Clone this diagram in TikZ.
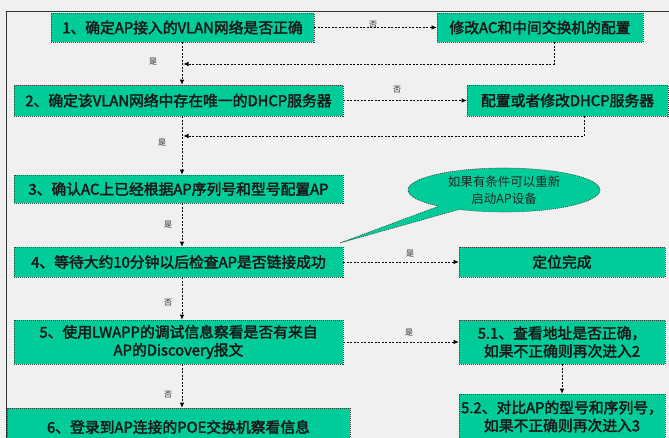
\documentclass[tikz,border=0pt]{standalone}
\usepackage{fontspec}
\setmainfont{Noto Sans CJK SC}[AutoFakeBold=2.5]
\usetikzlibrary{arrows.meta,shapes.callouts}
\definecolor{boxgreen}{RGB}{0,204,153}
\definecolor{bgray}{RGB}{240,240,240}
\begin{document}
\begin{tikzpicture}[x=1pt,y=-1pt,
  box/.style={draw=black!75, fill=boxgreen, line width=0.6pt, dash pattern=on 1pt off 1pt,
    inner sep=0pt, font=\fontsize{14.8}{18}\selectfont\bfseries, align=center, text=black!90},
  conn/.style={draw=black, line width=0.7pt, dash pattern=on 2pt off 1.5pt,
    -{Latex[length=5pt,width=4.5pt]}},
  lbl/.style={font=\fontsize{8}{9}\selectfont, inner sep=0pt, text=black!85}]
\useasboundingbox (0,0) rectangle (669,438);
\clip (0,0) rectangle (669,438);
\fill[bgray] (0,0) rectangle (669,438);
\draw[black!80, line width=0.8pt] (6,440) -- (6,11) -- (669,11);

% boxes
\node[box, minimum width=263, minimum height=29] (b1) at (182.5,27.5) {1、确定AP接入的VLAN网络是否正确};
\node[box, minimum width=206, minimum height=29] (b1r) at (540,27.5) {修改AC和中间交换机的配置};
\node[box, minimum width=329, minimum height=31] (b2) at (178.5,100.5) {2、确定该VLAN网络中存在唯一的DHCP服务器};
\node[box, minimum width=201, minimum height=31] (b2r) at (567.5,100.5) {配置或者修改DHCP服务器};
\node[box, minimum width=329, minimum height=28] (b3) at (178.5,189) {3、确认AC上已经根据AP序列号和型号配置AP};
\node[box, minimum width=329, minimum height=30] (b4) at (178.5,262) {4、等待大约10分钟以后检查AP是否链接成功};
\node[box, minimum width=206, minimum height=30] (b4r) at (562,262) {定位完成};
\node[box, minimum width=329, minimum height=44] (b5) at (178.5,342) {5、使用LWAPP的调试信息察看是否有来自\\AP的Discovery报文};
\node[box, minimum width=206, minimum height=44] (b51) at (562,342) {5.1、查看地址是否正确，\\如果不正确则再次进入2};
\node[box, minimum width=206, minimum height=45] (b52) at (562,416.5) {5.2、对比AP的型号和序列号，\\如果不正确则再次进入3};
\node[box, minimum width=343, minimum height=38] (b6) at (178.5,427) {6、登录到AP连接的POE交换机察看信息};

% callout
\node[ellipse callout, draw=black!75, fill=boxgreen, line width=0.6pt, dash pattern=on 1pt off 1pt,
  minimum width=192, minimum height=44, inner sep=0pt, align=center,
  font=\fontsize{12.5}{17}\selectfont, text=black!85,
  callout absolute pointer={(340,243)}] (co) at (504,190) {如果有条件可以重新\\启动AP设备};

% junction coordinates
\coordinate (t1) at (554,42);
\coordinate (j1) at (183.5,64);
\coordinate (t2) at (584,116);
\coordinate (j2) at (183.5,136);

% horizontal arrows
\draw[conn] (b1.east) -- (b1r.west);
\draw[conn] (b2.east) -- (b2r.west);
\draw[conn] (b4.east) -- (b4r.west);
\draw[conn] (b5.east) -- (b51.west);

% return arrows
\draw[conn] (b1r.south -| t1) |- (j1);
\draw[conn] (b2r.south -| t2) |- (j2);

% vertical arrows
\draw[conn] (b1.south -| 182,0) -- (b2.north -| 182,0);
\draw[conn] (b2.south -| 182,0) -- (b3.north -| 182,0);
\draw[conn] (b3.south -| 182,0) -- (b4.north -| 182,0);
\draw[conn] (b4.south -| 182,0) -- (b5.north -| 182,0);
\draw[conn] (b5.south -| 182,0) -- (b6.north -| 182,0);
\draw[conn] (b51.south) -- (b52.north);

% labels
\node[lbl] (l1) at (373,25) {否};
\node[lbl] (l2) at (153,62) {是};
\node[lbl] (l3) at (397,90) {否};
\node[lbl] (l4) at (162,143) {是};
\node[lbl] (l5) at (168,225) {是};
\node[lbl] (l6) at (410,254) {是};
\node[lbl] (l7) at (168,303) {否};
\node[lbl] (l8) at (409,333) {是};
\node[lbl] (l9) at (168,395) {否};
\end{tikzpicture}
\end{document}
